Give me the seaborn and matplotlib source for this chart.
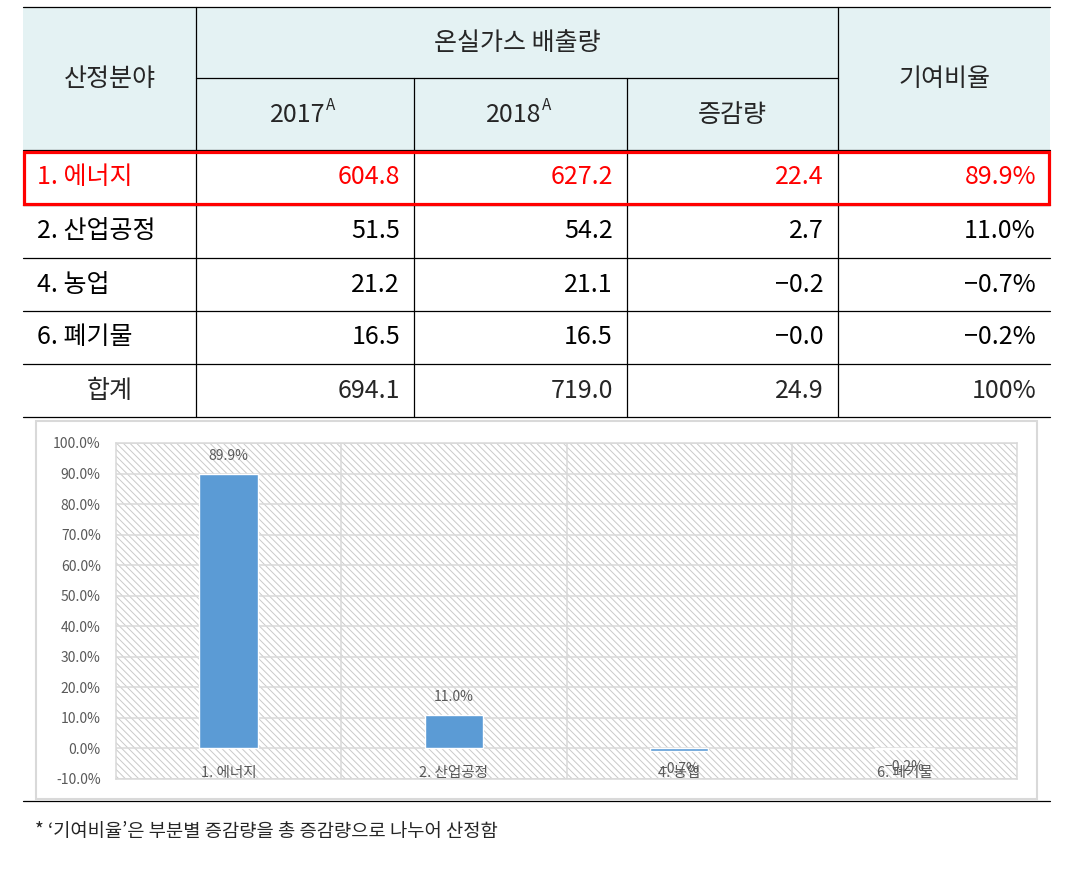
import matplotlib
matplotlib.use('Agg')
import matplotlib.pyplot as plt
import seaborn as sns
from matplotlib.patches import Rectangle

sns.set_style('white')
plt.rcParams['font.family'] = ['Noto Sans CJK KR', 'DejaVu Sans']
plt.rcParams['hatch.linewidth'] = 0.7

# --- data ---
categories = ['1. 에너지', '2. 산업공정', '4. 농업', '6. 폐기물']
emission_2017 = [604.8, 51.5, 21.2, 16.5]
emission_2018 = [627.2, 54.2, 21.1, 16.5]
change = [22.4, 2.7, -0.2, -0.0]
contribution = [89.9, 11.0, -0.7, -0.2]
total_label = '합계'
totals = ['694.1', '719.0', '24.9', '100%']
y_ticks = [-10, 0, 10, 20, 30, 40, 50, 60, 70, 80, 90, 100]
footnote = '* ‘기여비율’은 부분별 증감량을 총 증감량으로 나누어 산정함'


def fmt(v, suffix=''):
    return f'{v:.1f}{suffix}'.replace('-', '−')


W, H = 1078, 874
fig = plt.figure(figsize=(W / 100, H / 100), dpi=100)

# full-figure axes in pixel coordinates for the table
tab = fig.add_axes([0, 0, 1, 1])
tab.set_xlim(0, W)
tab.set_ylim(H, 0)
tab.axis('off')

col_x = [23, 196, 414, 627, 838, 1050]
row_y = [7, 150, 205, 258, 311, 364, 417]
head_mid = 78

tab.add_patch(Rectangle((col_x[0], row_y[0]), col_x[-1] - col_x[0], row_y[1] - row_y[0],
                        facecolor='#e4f2f3', edgecolor='none', zorder=0))

lw = 0.9
for y in row_y:
    tab.plot([col_x[0], col_x[-1]], [y, y], color='black', lw=lw)
tab.plot([col_x[1], col_x[4]], [head_mid, head_mid], color='black', lw=lw)
for x in [col_x[1], col_x[4]]:
    tab.plot([x, x], [row_y[0], row_y[-1]], color='black', lw=lw)
for x in [col_x[2], col_x[3]]:
    tab.plot([x, x], [head_mid, row_y[-1]], color='black', lw=lw)

fs = 18
tab.text((col_x[0] + col_x[1]) / 2, 79, '산정분야', ha='center', va='center', fontsize=fs)
tab.text((col_x[1] + col_x[4]) / 2, 43, '온실가스 배출량', ha='center', va='center', fontsize=fs)
tab.text((col_x[4] + col_x[5]) / 2, 79, '기여비율', ha='center', va='center', fontsize=fs)
tab.text(325, 115, '2017', ha='right', va='center', fontsize=fs)
tab.text(326, 97, 'A', ha='left', va='top', fontsize=11)
tab.text(541, 115, '2018', ha='right', va='center', fontsize=fs)
tab.text(542, 97, 'A', ha='left', va='top', fontsize=11)
tab.text((col_x[3] + col_x[4]) / 2, 115, '증감량', ha='center', va='center', fontsize=fs)

for i, cat in enumerate(categories):
    yc = (row_y[i + 1] + row_y[i + 2]) / 2
    color = 'red' if i == 0 else 'black'
    vals = [fmt(emission_2017[i]), fmt(emission_2018[i]), fmt(change[i]),
            fmt(contribution[i], '%')]
    tab.text(37, yc, cat, ha='left', va='center', fontsize=fs, color=color)
    for j, v in enumerate(vals):
        tab.text(col_x[j + 2] - 14, yc, v, ha='right', va='center', fontsize=fs, color=color)

yc = (row_y[-2] + row_y[-1]) / 2
tab.text((col_x[0] + col_x[1]) / 2, yc, total_label, ha='center', va='center', fontsize=fs)
for j, v in enumerate(totals):
    tab.text(col_x[j + 2] - 14, yc, v, ha='right', va='center', fontsize=fs)

# red highlight box
tab.add_patch(Rectangle((24, 152), 1025, 52, facecolor='none', edgecolor='#ff0000', lw=2.3, zorder=5))

# chart frame and bottom rule
tab.add_patch(Rectangle((36, 421), 1001, 378, facecolor='white', edgecolor='#d9d9d9', lw=1.5))
tab.plot([col_x[0], col_x[-1]], [801, 801], color='black', lw=lw)
tab.text(35, 831, footnote, ha='left', va='center', fontsize=13.5)

# --- chart ---
left, right, top, bottom = 116, 1017, 443, 779
ax = fig.add_axes([left / W, 1 - bottom / H, (right - left) / W, (bottom - top) / H])
ax.patch.set_facecolor('white')
ax.patch.set_edgecolor('#c9c9c9')
ax.patch.set_hatch('\\\\\\\\\\')
ax.patch.set_linewidth(0)
sns.barplot(x=categories, y=contribution, color='#5b9bd5', saturation=1, width=0.26,
            ax=ax, zorder=3)
ax.set_ylim(y_ticks[0], y_ticks[-1])
ax.set_xlim(-0.5, len(categories) - 0.5)
ax.set_yticks(y_ticks)
ax.set_yticklabels([f'{t:.1f}%' for t in y_ticks])
ax.set_xticks([])
ax.tick_params(axis='y', length=0, pad=11, labelsize=10, labelcolor='#595959')
ax.set_axisbelow(True)
ax.grid(axis='y', color='#d9d9d9', lw=1.1)
for k in range(len(categories) - 1):
    ax.axvline(k + 0.5, color='#d9d9d9', lw=1.1, zorder=1)
for s in ax.spines.values():
    s.set_color('#d9d9d9')
    s.set_linewidth(1.1)

ax.bar_label(ax.containers[0], labels=[fmt(v, '%') for v in contribution],
             padding=8, fontsize=10, color='#595959')
for i, cat in enumerate(categories):
    ax.text(i, 0.018, cat, transform=ax.get_xaxis_transform(), ha='center', va='center',
            fontsize=10.5, color='#595959')

fig.savefig('out.png', dpi=100)
